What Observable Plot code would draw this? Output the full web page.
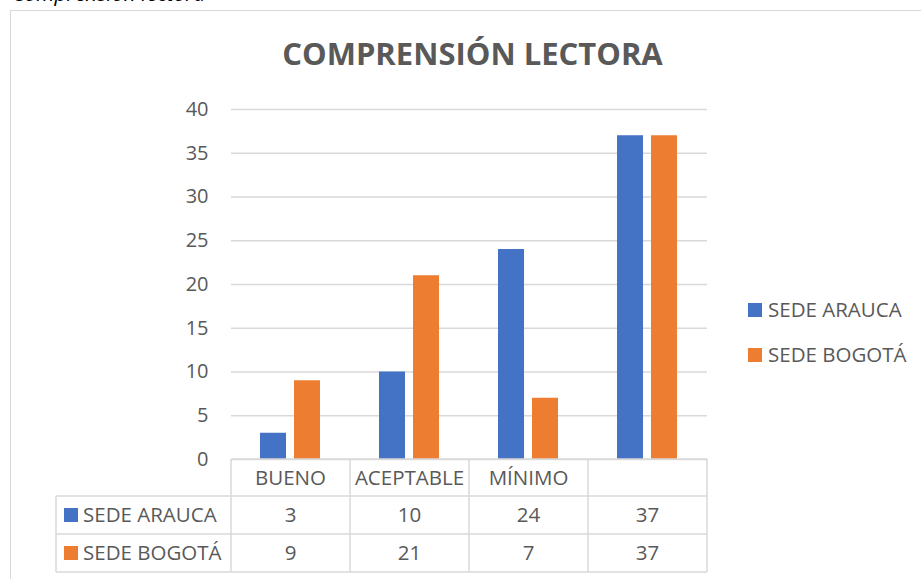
<!DOCTYPE html>
<html>
<head>
<meta charset="utf-8">
<script src="https://cdn.jsdelivr.net/npm/d3@7"></script>
<script src="https://cdn.jsdelivr.net/npm/@observablehq/plot@0.6"></script>
<style>
  html, body { margin: 0; padding: 0; background: #fff; }
  #wrap { position: relative; width: 921px; height: 579px; overflow: hidden; font-family: "Open Sans", sans-serif; }
  #caption { position: absolute; left: 12px; top: -21px; font-size: 21px; line-height: 28px; font-style: italic; color: #000; white-space: nowrap; }
  #frame { position: absolute; left: 10px; top: 10px; width: 1000px; height: 1000px; border-left: 1.5px solid #d9d9d9; border-top: 1.5px solid #d9d9d9; }
  #chart { position: absolute; left: 0; top: 0; }
</style>
</head>
<body>
<div id="wrap">
  <div id="caption">Comprensión lectora</div>
  <div id="frame"></div>
  <div id="chart"></div>
</div>
<script>
const titulo = "COMPRENSIÓN LECTORA";
const categorias = ["BUENO", "ACEPTABLE", "MÍNIMO", ""];
const series = ["SEDE ARAUCA", "SEDE BOGOTÁ"];
const sedeArauca = [3, 10, 24, 37];
const sedeBogota = [9, 21, 7, 37];
const yTicks = [0, 5, 10, 15, 20, 25, 30, 35, 40];
const colores = ["#4472c4", "#ed7d31"];

const valores = [sedeArauca, sedeBogota];
const filas = series.map((s, i) => categorias.map((c, j) => ({serie: s, cat: c, v: valores[i][j]})));

const textColor = "#595959";
const gridColor = "#d9d9d9";
const fontSize = 20.5;

const chart = Plot.plot({
  width: 921,
  height: 579,
  marginTop: 109,
  marginBottom: 120,
  marginLeft: 231,
  marginRight: 214,
  style: {fontFamily: "'Open Sans', sans-serif", fontSize: fontSize + "px", color: textColor, background: "transparent", overflow: "visible"},
  x: {type: "band", domain: categorias, padding: 0, axis: null},
  y: {domain: [0, 40], axis: null},
  marks: [
    Plot.ruleY(yTicks, {stroke: gridColor, strokeWidth: 1.5}),
    Plot.barY(filas[0], {x: "cat", y: "v", fill: colores[0], insetLeft: 29, insetRight: 64}),
    Plot.barY(filas[1], {x: "cat", y: "v", fill: colores[1], insetLeft: 63, insetRight: 30}),
    Plot.text(yTicks, {y: d => d, text: d => String(d), frameAnchor: "left", textAnchor: "end", dx: -23, fill: textColor, fontSize: 20}),
    Plot.text([titulo], {frameAnchor: "top", text: d => d, dy: -54, dx: 3, lineAnchor: "middle", fontSize: 31, fontWeight: "bold", fill: textColor})
  ]
});
document.getElementById("chart").appendChild(chart);

// Tabla de datos (dibujada con las escalas de Plot)
const xs = chart.scale("x");
const ys = chart.scale("y");
const svg = d3.select(chart);
const g = svg.append("g").attr("text-anchor", "start");
const y0 = ys.apply(0);
const rowH = [37, 38, 38];
const rowTop = [y0, y0 + rowH[0], y0 + rowH[0] + rowH[1], y0 + rowH[0] + rowH[1] + rowH[2]];
const xLeft = xs.apply(categorias[0]);
const xRight = xs.apply(categorias[categorias.length - 1]) + xs.bandwidth;
const legLeft = 56;

// horizontal lines
g.append("line").attr("x1", xLeft).attr("x2", xRight).attr("y1", rowTop[0]).attr("y2", rowTop[0]);
for (let k = 1; k < 4; k++) g.append("line").attr("x1", legLeft).attr("x2", xRight).attr("y1", rowTop[k]).attr("y2", rowTop[k]);
// vertical lines
g.append("line").attr("x1", legLeft).attr("x2", legLeft).attr("y1", rowTop[1]).attr("y2", rowTop[3]);
categorias.forEach(c => { const x = xs.apply(c); g.append("line").attr("x1", x).attr("x2", x).attr("y1", rowTop[0]).attr("y2", rowTop[3]); });
g.append("line").attr("x1", xRight).attr("x2", xRight).attr("y1", rowTop[0]).attr("y2", rowTop[3]);
g.selectAll("line").attr("stroke", gridColor).attr("stroke-width", 1.5);

// header
categorias.forEach(c => {
  g.append("text").attr("x", xs.apply(c) + xs.bandwidth / 2).attr("y", (rowTop[0] + rowTop[1]) / 2)
    .attr("text-anchor", "middle").attr("dy", "0.35em").attr("fill", textColor).attr("font-size", fontSize).text(c);
});
// rows
series.forEach((s, i) => {
  const yc = (rowTop[i + 1] + rowTop[i + 2]) / 2;
  g.append("rect").attr("x", 64).attr("y", yc - 7).attr("width", 14).attr("height", 14).attr("fill", colores[i]);
  g.append("text").attr("x", 83).attr("y", yc).attr("dy", "0.35em").attr("text-anchor", "start").attr("fill", textColor).attr("font-size", fontSize).text(s);
  categorias.forEach((c, j) => {
    g.append("text").attr("x", xs.apply(c) + xs.bandwidth / 2).attr("y", yc)
      .attr("text-anchor", "middle").attr("dy", "0.35em").attr("fill", textColor).attr("font-size", fontSize).text(valores[i][j]);
  });
});

// leyenda derecha
const legY = [310, 355];
series.forEach((s, i) => {
  g.append("rect").attr("x", xRight + 41).attr("y", legY[i] - 7).attr("width", 14).attr("height", 14).attr("fill", colores[i]);
  g.append("text").attr("x", xRight + 61).attr("y", legY[i]).attr("dy", "0.35em").attr("text-anchor", "start").attr("fill", textColor).attr("font-size", fontSize).text(s);
});
</script>
</body>
</html>
